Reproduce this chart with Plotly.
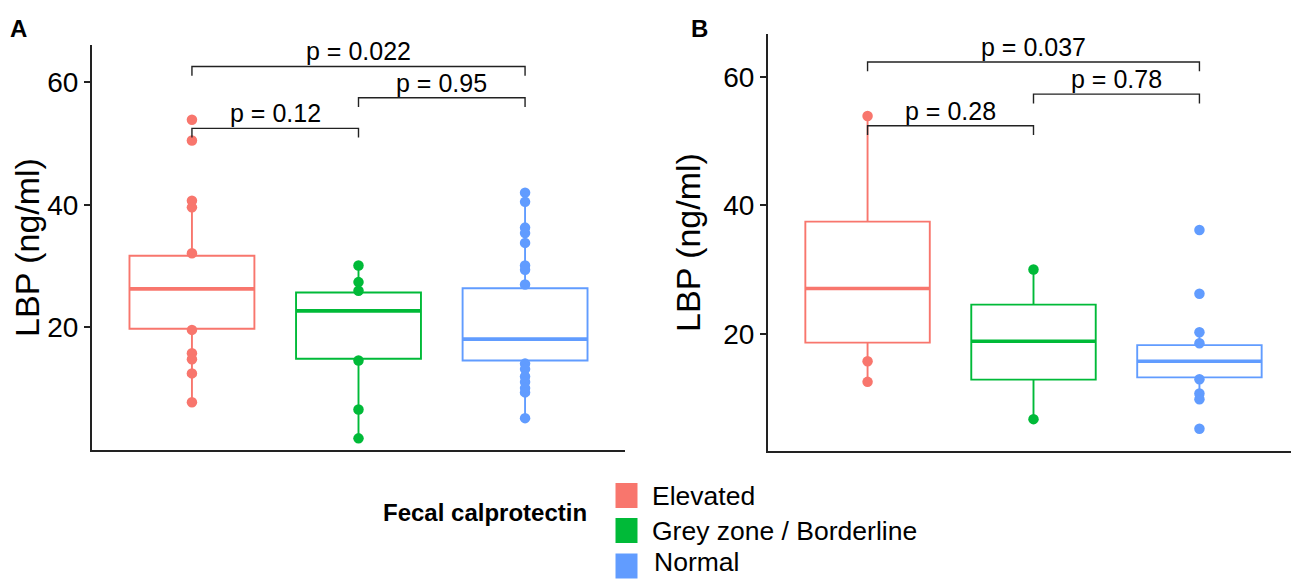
import plotly.graph_objects as go

# groups and colours (ggplot defaults)
groups = ["Elevated", "Grey zone / Borderline", "Normal"]
colors = ["#F8766D", "#00BA38", "#619CFF"]
xpos = [1, 2, 3]

# panel A - box statistics
a_q1 = [19.8, 14.9, 14.6]
a_med = [26.3, 22.7, 18.1]
a_q3 = [31.7, 25.7, 26.4]
a_lo = [7.8, 1.9, 5.2]
a_hi = [40.7, 30.1, 42.0]
a_pts = [
    [53.9, 50.5, 40.7, 39.6, 32.1, 19.6, 15.8, 14.8, 12.5, 7.8],
    [30.1, 27.4, 26.0, 14.6, 6.6, 1.9],
    [42.0, 40.5, 36.3, 35.4, 33.8, 30.1, 29.4, 27.0, 14.1, 13.2, 12.0, 11.1, 10.1, 9.4, 5.2],
]

# panel B
b_q1 = [18.7, 12.95, 13.3]
b_med = [27.1, 18.9, 15.8]
b_q3 = [37.5, 24.6, 18.3]
b_lo = [12.6, 6.8, 9.9]
b_hi = [53.9, 30.05, 20.3]
b_pts = [
    [53.9, 15.8, 12.6],
    [30.05, 6.8],
    [36.2, 26.3, 20.3, 18.6, 13.0, 10.8, 9.9, 5.3],
]

# pairwise comparisons: (group i, group j), bracket height, label
a_pairs = [(1, 2), (2, 3), (1, 3)]
a_brk_y = [52.5, 57.5, 62.6]
a_labels = ["p = 0.12", "p = 0.95", "p = 0.022"]
b_pairs = [(1, 2), (2, 3), (1, 3)]
b_brk_y = [52.4, 57.3, 62.3]
b_labels = ["p = 0.28", "p = 0.78", "p = 0.037"]
a_tip = 1.5
b_tip = 1.45

# page body has an 8px margin, so the figure is drawn 8px smaller
OFF = 8
W, H = 1299 - OFF, 580 - OFF
FONT = "Liberation Sans, Arial, Helvetica, sans-serif"
BOXW = 0.75


def px(x):
    return (x - OFF) / W


def py(y):
    return 1 - (y - OFF) / H


fig = go.Figure()


def add_panel(q1, med, q3, lo, hi, pts, pairs, brk_y, labels, tip, xa, ya):
    for i in range(3):
        fig.add_trace(go.Box(
            x=[xpos[i]], q1=[q1[i]], median=[med[i]], q3=[q3[i]],
            lowerfence=[lo[i]], upperfence=[hi[i]],
            width=BOXW, whiskerwidth=0, boxpoints=False,
            fillcolor="rgba(255,255,255,0)",
            line=dict(color=colors[i], width=1.9),
            xaxis=xa, yaxis=ya, showlegend=False, hoverinfo="skip"))
        # thicker median like ggplot
        fig.add_trace(go.Scatter(
            x=[xpos[i] - BOXW / 2, xpos[i] + BOXW / 2], y=[med[i], med[i]],
            mode="lines", line=dict(color=colors[i], width=3.6),
            xaxis=xa, yaxis=ya, showlegend=False, hoverinfo="skip"))
        fig.add_trace(go.Scatter(
            x=[xpos[i]] * len(pts[i]), y=pts[i], mode="markers",
            marker=dict(color=colors[i], size=10.5),
            xaxis=xa, yaxis=ya, showlegend=False, hoverinfo="skip"))
    for (g1, g2), yb, lab in zip(pairs, brk_y, labels):
        fig.add_trace(go.Scatter(
            x=[g1, g1, g2, g2], y=[yb - tip, yb, yb, yb - tip],
            mode="lines", line=dict(color="#222222", width=1.4),
            xaxis=xa, yaxis=ya, showlegend=False, hoverinfo="skip"))
        fig.add_annotation(
            x=(g1 + g2) / 2, y=yb, xref=xa, yref=ya,
            text=lab, showarrow=False, yanchor="bottom", yshift=-1,
            font=dict(family=FONT, size=25, color="black"))


add_panel(a_q1, a_med, a_q3, a_lo, a_hi, a_pts, a_pairs, a_brk_y, a_labels, a_tip, "x", "y")
add_panel(b_q1, b_med, b_q3, b_lo, b_hi, b_pts, b_pairs, b_brk_y, b_labels, b_tip, "x2", "y2")

xax = dict(range=[0.4, 3.6], showline=True, linecolor="#222222", linewidth=2,
           showticklabels=False, ticks="", showgrid=False, zeroline=False)
yax = dict(showline=True, linecolor="#222222", linewidth=2, ticks="outside",
           ticklen=6, tickwidth=1.5, tickcolor="#222222",
           tickvals=[20, 40, 60], showgrid=False, zeroline=False,
           tickfont=dict(family=FONT, size=28, color="black"),
           title=dict(text="LBP (ng/ml)", standoff=12,
                      font=dict(family=FONT, size=34, color="black")))

fig.update_layout(
    width=W, height=H, margin=dict(l=0, r=0, t=0, b=0),
    paper_bgcolor="white", plot_bgcolor="white", showlegend=False,
    hovermode=False,
    xaxis=dict(xax, domain=[px(92), px(625)], anchor="y"),
    yaxis=dict(yax, domain=[py(450), py(45)], range=[0, 66.1], anchor="x"),
    xaxis2=dict(xax, domain=[px(768), 1.0], anchor="y2"),
    yaxis2=dict(yax, domain=[py(450.7), py(34.3)], range=[1.9, 66.6], anchor="x2"),
)

# panel letters
for lab, x0 in [("A", 8), ("B", 689)]:
    fig.add_annotation(x=px(x0), y=py(28.5), xref="paper", yref="paper",
                       text="<b>%s</b>" % lab, showarrow=False,
                       xanchor="left", yanchor="middle",
                       font=dict(family=FONT, size=24, color="black"))

# legend drawn by hand so the keys can be large squares
fig.add_annotation(x=px(381), y=py(512), xref="paper", yref="paper",
                   text="<b>Fecal calprotectin</b>", showarrow=False,
                   xanchor="left", yanchor="middle",
                   font=dict(family=FONT, size=24, color="black"))
key_y = [495.5, 530.5, 566]
label_y = [496, 531, 562]
label_x = [651, 651, 653]
for g, c, yc, ly, lx in zip(groups, colors, key_y, label_y, label_x):
    fig.add_shape(type="rect", xref="paper", yref="paper",
                  x0=px(615.5), x1=px(637.5), y0=py(yc - 12.5), y1=py(yc + 12.5),
                  fillcolor=c, line=dict(width=0))
    fig.add_annotation(x=px(lx), y=py(ly), xref="paper", yref="paper",
                       text=g, showarrow=False, xanchor="left", yanchor="middle",
                       borderpad=0,
                       font=dict(family=FONT, size=26.5, color="black"))

fig.write_html("out.html")
